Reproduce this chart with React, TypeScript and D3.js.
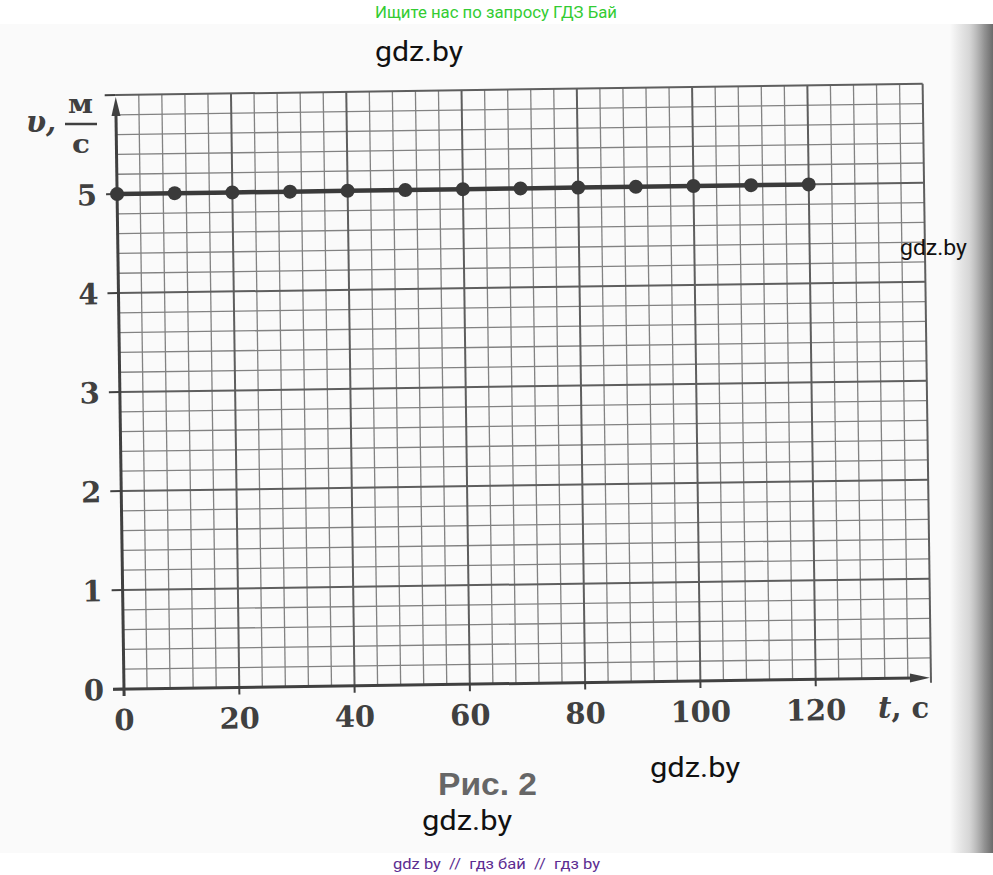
import React from "react";
import * as d3 from "d3";

const times = [0, 10, 20, 30, 40, 50, 60, 70, 80, 90, 100, 110, 120];
const speeds = [5, 5, 5, 5, 5, 5, 5, 5, 5, 5, 5, 5, 5];
const xTickValues = [0, 20, 40, 60, 80, 100, 120];
const yTickValues = [0, 1, 2, 3, 4, 5, 6];
const yTickLabels = ["0", "1", "2", "3", "4", "5"];
const headerText = "Ищите нас по запросу ГДЗ Бай";
const footerText = "gdz by  //  гдз бай  //  гдз by";
const captionText = "Рис. 2";

const W = 993;
const H = 875;

export default function App() {
  const x = d3.scaleLinear().domain([0, 140]).range([124, 931]);
  const y = d3.scaleLinear().domain([0, 6]).range([689, 95]);

  const minorX = d3.range(4, 140, 4).filter((t) => t % 20 !== 0);
  const majorX = [20, 40, 60, 80, 100, 120, 140];
  const minorY = d3.range(1, 30).filter((i) => i % 5 !== 0).map((i) => i / 5);
  const majorY = [1, 2, 3, 4, 5, 6];

  const line = d3
    .line<number>()
    .x((_, i) => x(times[i]))
    .y((d) => y(d));

  const ink = "#404040";
  const gridMinor = "#828282";
  const gridMajor = "#5e5e5e";
  const serif = "'DejaVu Serif', serif";
  const x0 = x(0);
  const y0 = y(0);
  const xEnd = x(140);
  const yTop = y(6);

  return (
    <svg
      width={W}
      height={H}
      style={{ position: "absolute", left: 0, top: 0, display: "block", background: "#fff" }}
    >
      <defs>
        <linearGradient id="spine" x1="0" x2="1" y1="0" y2="0">
          <stop offset="0" stopColor="#9a9a9a" stopOpacity={0} />
          <stop offset="0.45" stopColor="#a0a0a0" stopOpacity={0.4} />
          <stop offset="0.8" stopColor="#808080" stopOpacity={0.85} />
          <stop offset="1" stopColor="#6a6a6a" stopOpacity={1} />
        </linearGradient>
      </defs>
      <rect x={0} y={0} width={W} height={H} fill="#ffffff" />
      <rect x={0} y={24} width={W} height={829} fill="#fafafa" />
      <rect x={950} y={24} width={43} height={829} fill="url(#spine)" />

      <g transform={`rotate(-0.8, ${x0}, ${y0})`}>
        {minorX.map((t) => (
          <line key={"mx" + t} x1={x(t)} x2={x(t)} y1={y0} y2={yTop} stroke={gridMinor} strokeWidth={1.3} />
        ))}
        {minorY.map((v, i) => (
          <line key={"my" + i} x1={x0} x2={xEnd} y1={y(v)} y2={y(v)} stroke={gridMinor} strokeWidth={1.3} />
        ))}
        {majorX.map((t) => (
          <line key={"Mx" + t} x1={x(t)} x2={x(t)} y1={t === 140 ? y0 + 5 : y0} y2={yTop} stroke={gridMajor} strokeWidth={2} />
        ))}
        {majorY.map((v) => (
          <line key={"My" + v} x1={x0} x2={xEnd} y1={y(v)} y2={y(v)} stroke={gridMajor} strokeWidth={2} />
        ))}

        {xTickValues.map((t) => (
          <line key={"xt" + t} x1={x(t)} x2={x(t)} y1={y0} y2={y0 + 7} stroke={ink} strokeWidth={2} />
        ))}
        {yTickValues.map((v) => (
          <line key={"yt" + v} x1={x0 - 11} x2={x0} y1={y(v)} y2={y(v)} stroke={ink} strokeWidth={v === 0 ? 2.5 : 2} />
        ))}

        <line x1={x0} x2={x0} y1={y0 + 7} y2={yTop + 16} stroke={ink} strokeWidth={3} />
        <polygon points={`${x0},${yTop + 2} ${x0 - 4.5},${yTop + 21} ${x0 + 4.5},${yTop + 21}`} fill={ink} />
        <line x1={x0 - 11} x2={xEnd - 16} y1={y0} y2={y0} stroke={ink} strokeWidth={3} />
        <polygon points={`${xEnd - 1},${y0} ${xEnd - 21},${y0 - 4.5} ${xEnd - 21},${y0 + 4.5}`} fill={ink} />

        <path d={line(speeds) || ""} fill="none" stroke="#3a3a3a" strokeWidth={4.5} />
        {speeds.map((v, i) => (
          <circle key={"p" + i} cx={x(times[i])} cy={y(v)} r={7} fill="#3a3a3a" />
        ))}

        {xTickValues.map((t) => (
          <text key={"xl" + t} x={x(t)} y={y0 + 41} textAnchor="middle" fontFamily={serif} fontWeight="bold" fontSize={29} fill={ink}>
            {String(t)}
          </text>
        ))}
        {yTickLabels.map((s, i) => (
          <text key={"yl" + i} x={x0 - 20} y={y(yTickValues[i]) + 11} textAnchor="end" fontFamily={serif} fontWeight="bold" fontSize={29} fill={ink}>
            {s}
          </text>
        ))}
      </g>

      <text x={26} y={132} fontFamily={serif} fontStyle="italic" fontWeight="bold" fontSize={29} fill={ink}>
        υ,
      </text>
      <text x={68} y={113} fontFamily={serif} fontWeight="bold" fontSize={26} fill={ink} textLength={25} lengthAdjust="spacingAndGlyphs">
        м
      </text>
      <line x1={65} x2={97} y1={124} y2={124} stroke={ink} strokeWidth={2.5} />
      <text x={72} y={153} fontFamily={serif} fontWeight="bold" fontSize={26} fill={ink} textLength={18} lengthAdjust="spacingAndGlyphs">
        с
      </text>

      <text x={878} y={718} fontFamily={serif} fontWeight="bold" fontSize={29} fill={ink}>
        <tspan fontStyle="italic">t</tspan>
        <tspan>, с</tspan>
      </text>

      <text x={438} y={795} fontFamily="'Liberation Sans', Arial, sans-serif" fontWeight="bold" fontSize={31} fill="#666" textLength={99} lengthAdjust="spacingAndGlyphs">
        {captionText}
      </text>

      <text x={375} y={18} fontFamily="Roboto, sans-serif" fontSize={17} fill="#33cc33" textLength={242} lengthAdjust="spacingAndGlyphs">
        {headerText}
      </text>
      <text x={393} y={869} fontFamily="Roboto, sans-serif" fontSize={15} fill="#5c2d91" textLength={207} lengthAdjust="spacingAndGlyphs" style={{ whiteSpace: "pre" }}>
        {footerText}
      </text>

      <text x={375} y={61} fontFamily="Roboto, sans-serif" fontSize={27} fill="#111" textLength={88} lengthAdjust="spacingAndGlyphs">gdz.by</text>
      <text x={900} y={255} fontFamily="Roboto, sans-serif" fontSize={22} fill="#111" textLength={67} lengthAdjust="spacingAndGlyphs">gdz.by</text>
      <text x={650} y={777} fontFamily="Roboto, sans-serif" fontSize={27} fill="#111" textLength={90} lengthAdjust="spacingAndGlyphs">gdz.by</text>
      <text x={422} y={830} fontFamily="Roboto, sans-serif" fontSize={27} fill="#111" textLength={90} lengthAdjust="spacingAndGlyphs">gdz.by</text>
    </svg>
  );
}
